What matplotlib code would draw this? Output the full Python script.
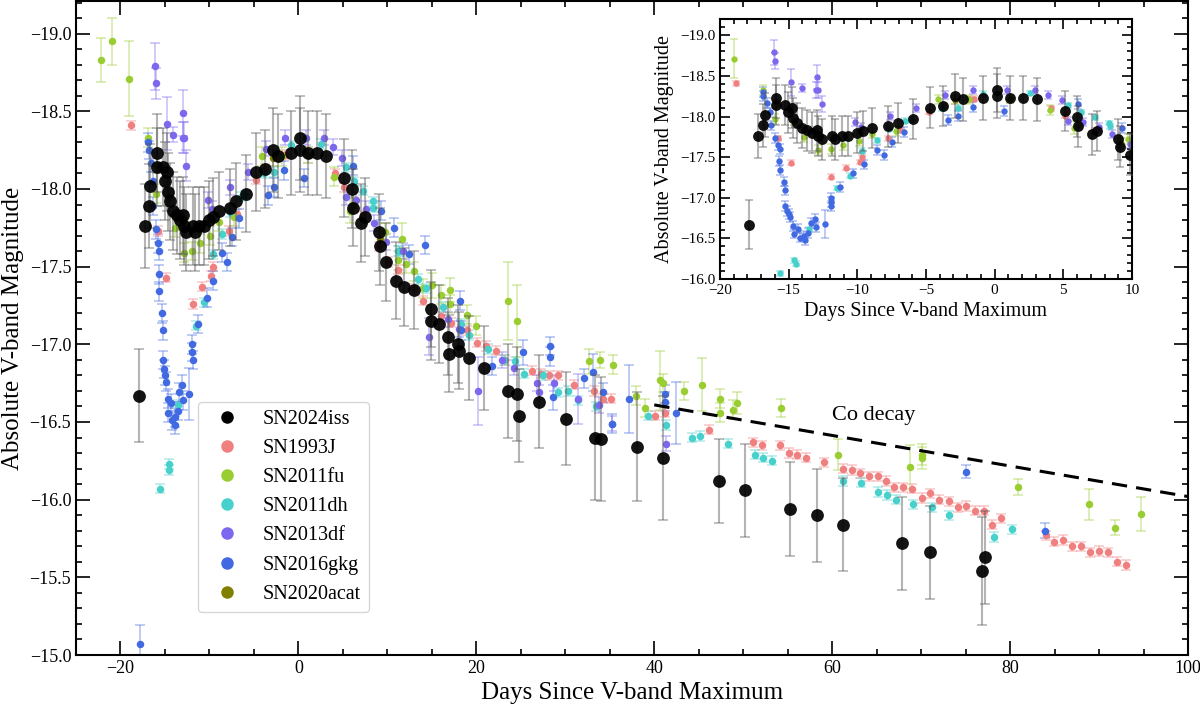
import numpy as np
import matplotlib
matplotlib.use("Agg")
import matplotlib.pyplot as plt
from matplotlib.colors import to_rgba
from matplotlib.lines import Line2D
from matplotlib.ticker import MultipleLocator

plt.rcParams['font.family'] = 'serif'
plt.rcParams['font.serif'] = ['Liberation Serif', 'DejaVu Serif']

# SN2024iss (black)
iss_day = [-17.9, -17.25, -16.85, -16.72, -15.92, -15.92, -15.27, -15.02, -14.78, -14.66,
           -14.41, -14.05, -13.69, -13.32, -12.96, -12.84, -12.6, -11.86, -11.62, -11.14,
           -10.65, -10.04, -9.56, -8.95, -7.74, -7.01, -5.92, -4.71, -3.74, -2.88,
           -2.28, -0.82, 0.15, 0.15, 1.12, 2.09, 3.07, 5.13, 5.98, 6.1,
           7.07, 7.44, 9.01, 9.13, 9.86, 10.98, 11.91, 13.03, 14.91, 14.91,
           15.84, 16.78, 16.97, 17.9, 18.09, 19.13, 20.9, 23.52, 24.53, 24.83,
           27.08, 30.08, 33.37, 34.01, 38.06, 40.94, 47.3, 50.22, 55.24, 58.24,
           61.24, 67.9, 70.97, 77.15, 76.89]
iss_mag = [-16.67, -17.76, -17.89, -18.02, -18.23, -18.14, -18.14, -18.05, -18.11, -17.98,
           -17.92, -17.86, -17.83, -17.80, -17.83, -17.76, -17.72, -17.76, -17.72, -17.76,
           -17.76, -17.80, -17.82, -17.86, -17.88, -17.92, -17.97, -18.11, -18.13, -18.25,
           -18.21, -18.23, -18.33, -18.25, -18.23, -18.23, -18.21, -18.07, -18.00, -17.88,
           -17.78, -17.82, -17.72, -17.63, -17.53, -17.41, -17.37, -17.35, -17.23, -17.15,
           -17.13, -17.05, -16.94, -17.00, -16.96, -16.91, -16.85, -16.70, -16.68, -16.54,
           -16.63, -16.52, -16.40, -16.39, -16.34, -16.27, -16.12, -16.06, -15.94, -15.90,
           -15.84, -15.72, -15.66, -15.63, -15.54]
iss_err = [0.30, 0.27, 0.27, 0.27, 0.25, 0.25, 0.25, 0.25, 0.25, 0.25,
           0.25, 0.25, 0.25, 0.25, 0.25, 0.25, 0.25, 0.25, 0.25, 0.25,
           0.25, 0.25, 0.25, 0.25, 0.25, 0.25, 0.25, 0.25, 0.25, 0.27,
           0.27, 0.27, 0.27, 0.27, 0.27, 0.27, 0.27, 0.25, 0.25, 0.25,
           0.25, 0.25, 0.25, 0.25, 0.25, 0.25, 0.25, 0.25, 0.25, 0.25,
           0.25, 0.25, 0.25, 0.25, 0.25, 0.27, 0.27, 0.30, 0.30, 0.30,
           0.30, 0.30, 0.40, 0.40, 0.35, 0.40, 0.27, 0.30, 0.30, 0.30,
           0.30, 0.30, 0.30, 0.30, 0.35]

# SN1993J
j93_day = [-18.8, -15.8, -14.85, -11.9, -10.85, -9.8, -9.65, -7.8, -6.9, -4.75,
           -3.7, -1.9, -1.5, 4.1, 5.1, 7.3, 9.1, 10.1, 11.2, 13.0,
           14.0, 16.0, 17.1, 19.0, 20.1, 21.1, 22.2, 23.2, 26.3, 27.3,
           28.2, 29.2, 31.0, 33.2, 34.2, 35.1, 40.1, 41.2, 46.2, 51.05,
           52.1, 54.1, 55.1, 56.1, 57.1, 59.1, 61.2, 62.2, 63.1, 64.1,
           65.1, 66.0, 67.0, 68.0, 69.0, 70.1, 71.0, 72.0, 73.1, 74.1,
           75.0, 76.1, 77.1, 78.0, 79.0, 84.0, 84.9, 86.0, 87.0, 88.0,
           89.0, 90.0, 91.0, 92.0, 93.0]
j93_mag = [-18.41, -17.73, -17.43, -17.26, -17.37, -17.44, -17.50, -17.73, -17.84, -18.06,
           -18.13, -18.21, -18.22, -18.10, -18.01, -17.83, -17.63, -17.53, -17.48, -17.36,
           -17.28, -17.18, -17.14, -17.09, -17.01, -16.99, -16.96, -16.90, -16.83, -16.81,
           -16.80, -16.80, -16.74, -16.70, -16.65, -16.65, -16.54, -16.56, -16.45, -16.37,
           -16.35, -16.35, -16.30, -16.29, -16.27, -16.24, -16.20, -16.19, -16.17, -16.15,
           -16.15, -16.12, -16.08, -16.08, -16.07, -16.01, -16.04, -16.00, -15.99, -15.95,
           -15.96, -15.93, -15.93, -15.84, -15.88, -15.77, -15.73, -15.74, -15.70, -15.70,
           -15.66, -15.67, -15.66, -15.60, -15.58]

# SN2011fu
fu_day = [-22.2, -21.0, -19.0, -16.9, -16.0, -13.9, -12.9, -11.95, -11.05, -9.9,
          -8.95, -7.2, -4.1, -1.85, 4.0, 5.8, 9.7, 11.7, 11.15, 12.1,
          13.0, 14.0, 15.0, 16.0, 17.05, 17.05, 19.0, 20.0, 23.6, 24.6,
          32.7, 33.9, 35.4, 37.9, 39.0, 40.6, 41.0, 43.3, 45.4, 47.4,
          47.4, 48.9, 49.3, 54.2, 60.7, 68.8, 70.15, 70.15, 80.9, 88.9,
          91.8, 94.7]
fu_mag = [-18.83, -18.95, -18.71, -18.33, -17.97, -17.75, -17.59, -17.60, -17.65, -17.70,
          -17.79, -17.82, -18.21, -18.21, -18.08, -17.86, -17.72, -17.68, -17.54, -17.52,
          -17.47, -17.36, -17.38, -17.32, -17.35, -17.26, -17.19, -17.12, -17.28, -17.15,
          -16.89, -16.90, -16.87, -16.67, -16.59, -16.77, -16.75, -16.70, -16.74, -16.65,
          -16.56, -16.58, -16.62, -16.59, -16.29, -16.21, -16.29, -16.27, -16.08, -15.97,
          -15.82, -15.91]
fu_err = [0.14, 0.15, 0.24, 0.06, 0.06, 0.06, 0.06, 0.06, 0.06, 0.06,
          0.06, 0.06, 0.06, 0.06, 0.06, 0.08, 0.06, 0.10, 0.06, 0.06,
          0.06, 0.06, 0.08, 0.06, 0.08, 0.06, 0.06, 0.06, 0.25, 0.23,
          0.08, 0.05, 0.06, 0.06, 0.06, 0.19, 0.06, 0.06, 0.17, 0.06,
          0.06, 0.06, 0.07, 0.06, 0.10, 0.14, 0.07, 0.07, 0.05, 0.10,
          0.05, 0.11]

# SN2011dh
dh_day = [-15.6, -14.6, -14.5, -13.55, -11.5, -10.56, -9.63, -8.58, -7.7, -6.5,
          -6.0, -3.82, -2.7, -0.82, 2.55, 5.36, 6.29, 7.3, 8.35, 8.4,
          11.2, 11.35, 13.4, 14.35, 16.3, 18.3, 19.2, 21.3, 23.15, 24.4,
          25.4, 27.45, 29.2, 30.3, 31.4, 33.4, 39.25, 41.3, 44.2, 45.2,
          48.3, 51.3, 52.2, 53.2, 61.2, 63.2, 65.2, 66.2, 67.2, 69.1,
          71.2, 73.15, 78.2, 80.2]
dh_mag = [-16.07, -16.23, -16.19, -16.61, -17.12, -17.27, -17.58, -17.71, -17.85, -17.95,
          -17.96, -18.10, -18.11, -18.28, -18.29, -18.14, -18.05, -17.99, -17.92, -17.88,
          -17.60, -17.60, -17.42, -17.36, -17.24, -17.13, -17.06, -16.97, -16.90, -16.89,
          -16.81, -16.80, -16.69, -16.70, -16.64, -16.60, -16.54, -16.48, -16.40, -16.41,
          -16.36, -16.29, -16.27, -16.25, -16.12, -16.11, -16.05, -16.03, -16.00, -15.97,
          -15.95, -15.90, -15.76, -15.81]

# SN2013df
df_day = [-16.1, -16.0, -14.8, -14.05, -12.97, -13.0, -12.85, -12.6, -10.15, -9.7,
          -7.65, -5.7, -3.62, -1.56, 0.87, 2.93, 3.85, 4.88, 5.36, 6.42,
          7.6, 8.53, 9.85, 11.73, 14.64, 16.78, 18.1, 20.15, 22.88, 24.27,
          26.82, 27.08, 28.76, 31.38, 33.82, 35.2, 41.31]
df_mag = [-18.79, -18.68, -18.42, -18.35, -18.49, -18.33, -18.33, -18.15, -17.93, -17.87,
          -18.01, -18.11, -18.26, -18.33, -18.33, -18.33, -18.27, -18.20, -17.95, -17.93,
          -17.87, -17.78, -17.66, -17.60, -17.05, -17.16, -17.10, -16.70, -16.90, -16.85,
          -16.75, -16.69, -16.75, -16.65, -16.61, -16.49, -16.36]
df_err = [0.15, 0.10, 0.17, 0.05, 0.15, 0.10, 0.10, 0.10, 0.05, 0.05,
          0.05, 0.05, 0.05, 0.05, 0.05, 0.05, 0.05, 0.05, 0.05, 0.05,
          0.05, 0.05, 0.05, 0.05, 0.12, 0.05, 0.05, 0.22, 0.05, 0.05,
          0.05, 0.05, 0.05, 0.16, 0.05, 0.05, 0.05]

# SN2016gkg
gkg_day = [-17.8, -16.9, -16.85, -16.55, -16.37, -16.29, -16.0, -15.81, -15.62, -15.7,
           -15.62, -15.32, -15.25, -15.25, -15.1, -14.95, -14.87, -14.68, -14.3, -14.61,
           -14.2, -13.82, -13.85, -13.56, -13.37, -13.07, -13.0, -12.33, -11.94, -11.94,
           -11.9, -11.24, -10.3, -9.55, -8.58, -8.05, -7.45, -6.63, -3.37, -2.7,
           -1.57, 0.67, 6.1, 9.3, 10.79, 12.47, 14.27, 18.16, 18.28, 21.76,
           25.2, 28.28, 28.28, 28.65, 32.13, 33.15, 34.19, 35.24, 37.12, 41.24,
           41.24, 42.43, 75.0, 83.93]
gkg_mag = [-15.07, -18.30, -18.25, -18.17, -18.05, -17.89, -17.74, -17.65, -17.60, -17.45,
           -17.34, -17.20, -17.09, -16.90, -16.84, -16.80, -16.76, -16.65, -16.62, -16.56,
           -16.51, -16.48, -16.53, -16.57, -16.69, -16.74, -16.64, -16.68, -17.00, -16.95,
           -16.90, -17.13, -17.30, -17.41, -17.59, -17.53, -17.69, -17.81, -17.96, -18.01,
           -18.12, -18.07, -18.15, -17.86, -17.75, -17.58, -17.64, -17.28, -17.09, -16.86,
           -16.95, -16.99, -16.92, -16.66, -16.78, -16.82, -16.69, -16.49, -16.65, -16.68,
           -16.63, -16.56, -16.18, -15.80]
gkg_err = [0.12, 0.06, 0.06, 0.06, 0.06, 0.06, 0.06, 0.06, 0.06, 0.06,
           0.06, 0.06, 0.06, 0.06, 0.06, 0.06, 0.06, 0.06, 0.06, 0.06,
           0.06, 0.06, 0.06, 0.06, 0.06, 0.06, 0.06, 0.17, 0.06, 0.06,
           0.06, 0.06, 0.06, 0.06, 0.06, 0.06, 0.06, 0.06, 0.06, 0.06,
           0.06, 0.06, 0.06, 0.06, 0.06, 0.06, 0.06, 0.06, 0.06, 0.06,
           0.08, 0.06, 0.06, 0.08, 0.06, 0.12, 0.06, 0.06, 0.22, 0.06,
           0.06, 0.20, 0.04, 0.05]

# SN2020acat (mostly hidden under SN2024iss)
acat_day = [-15.9, -14.6, -12.9, -2.9, 1.1, 6.1, 9.2]
acat_mag = [-18.15, -17.95, -17.80, -18.20, -18.22, -17.90, -17.68]

# Co decay line
co_day = [40.0, 100.0]
co_mag = [-16.61, -16.02]

names = ['SN2024iss', 'SN1993J', 'SN2011fu', 'SN2011dh', 'SN2013df', 'SN2016gkg', 'SN2020acat']
colors = ['black', '#F08080', '#9ACD32', '#48D1CC', '#7B68EE', '#4169E1', '#808000']

series = [
    (j93_day, j93_mag, 0.03, colors[1]),
    (fu_day, fu_mag, fu_err, colors[2]),
    (dh_day, dh_mag, 0.03, colors[3]),
    (df_day, df_mag, df_err, colors[4]),
    (gkg_day, gkg_mag, gkg_err, colors[5]),
    (acat_day, acat_mag, 0.05, colors[6]),
]


def draw(ax, s=1.0):
    for d, m, e, c in series:
        ax.errorbar(d, m, yerr=e, fmt='o', color=c, ms=5.4 * s, mec='none',
                    ecolor=to_rgba(c, 0.4), elinewidth=1.2, capsize=3.5 * s,
                    capthick=1.2, zorder=2)
    ax.errorbar(iss_day, iss_mag, yerr=iss_err, fmt='o', ms=9.2 * s, mec='none',
                mfc=(0, 0, 0, 0.92), ecolor=(0.35, 0.35, 0.35, 0.45),
                elinewidth=1.5, capsize=3.5 * s, capthick=1.2, zorder=3)


def style(ax, major=10, minor=4.5):
    ax.tick_params(which='both', direction='in', top=True, right=True, width=1.2)
    ax.tick_params(which='major', length=major)
    ax.tick_params(which='minor', length=minor)
    for sp in ax.spines.values():
        sp.set_linewidth(1.5)


fig = plt.figure(figsize=(12, 7.05), dpi=100)
ax = fig.add_axes([76 / 1200, 50 / 705, 1112 / 1200, 654 / 705])
draw(ax)
ax.plot(co_day, co_mag, 'k--', lw=2.2, dashes=(5, 3), zorder=4)
ax.text(60, -16.54, 'Co decay', fontsize=16, va='center')
ax.set_xlim(-25, 100)
ax.set_ylim(-15.0, -19.21)
ax.xaxis.set_major_locator(MultipleLocator(20))
ax.xaxis.set_minor_locator(MultipleLocator(5))
ax.yaxis.set_major_locator(MultipleLocator(0.5))
ax.yaxis.set_minor_locator(MultipleLocator(0.1))
ax.tick_params(labelsize=13)
style(ax)
ax.set_xlabel('Days Since V-band Maximum', fontsize=18)
ax.set_ylabel('Absolute V-band Magnitude', fontsize=18)

handles = [Line2D([], [], ls='none', marker='o', ms=9, mec='none', color=c) for c in colors]
ax.legend(handles, names, loc='lower left', bbox_to_anchor=(0.11, 0.066),
          borderaxespad=0, fontsize=14.5, framealpha=0.8)

ins = fig.add_axes([720 / 1200, 426 / 705, 412 / 1200, 260 / 705])
draw(ins, 0.85)
ins.set_xlim(-20, 10)
ins.set_ylim(-16.0, -19.2)
ins.xaxis.set_major_locator(MultipleLocator(5))
ins.xaxis.set_minor_locator(MultipleLocator(1))
ins.yaxis.set_major_locator(MultipleLocator(0.5))
ins.yaxis.set_minor_locator(MultipleLocator(0.1))
ins.tick_params(labelsize=11)
style(ins, 7, 3.5)
ins.set_xlabel('Days Since V-band Maximum', fontsize=14.5)
ins.set_ylabel('Absolute V-band Magnitude', fontsize=14.5)

fig.savefig('out.png', dpi=100)
